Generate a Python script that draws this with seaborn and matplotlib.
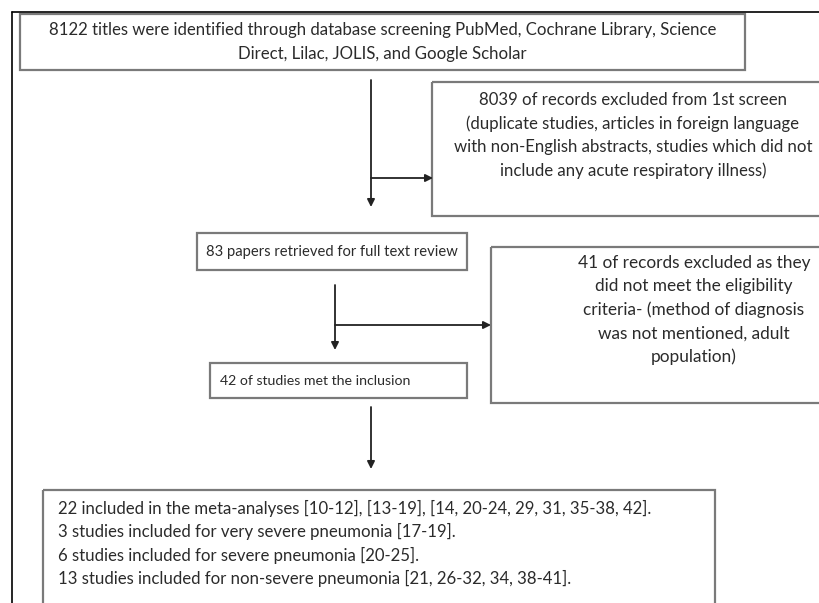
import matplotlib
matplotlib.use("Agg")
import matplotlib.pyplot as plt
from matplotlib.patches import Rectangle
import seaborn as sns

# ---------- flow diagram content ----------
n_identified = 8122
n_excluded_1 = 8039
n_retrieved = 83
n_excluded_2 = 41
n_included = 42

identified_lines = [
    f"{n_identified} titles were identified through database screening PubMed, Cochrane Library, Science",
    "Direct, Lilac, JOLIS, and Google Scholar",
]
excluded_1_lines = [
    f"{n_excluded_1} of records excluded from 1st screen",
    "(duplicate studies, articles in foreign language",
    "with non-English abstracts, studies which did not",
    "include any acute respiratory illness)",
]
retrieved_lines = [f"{n_retrieved} papers retrieved for full text review"]
excluded_2_lines = [
    f"{n_excluded_2} of records excluded as they",
    "did not meet the eligibility",
    "criteria- (method of diagnosis",
    "was not mentioned, adult",
    "population)",
]
included_lines = [f"{n_included} of studies met the inclusion"]
final_lines = [
    "22 included in the meta-analyses [10-12], [13-19], [14, 20-24, 29, 31, 35-38, 42].",
    "3 studies included for very severe pneumonia [17-19].",
    "6 studies included for severe pneumonia [20-25].",
    "13 studies included for non-severe pneumonia [21, 26-32, 34, 38-41].",
]

# ---------- layout (pixel space of the 820x603 canvas) ----------
W, H = 820, 603
EDGE = "#7a7a7a"
TXT = "#2b2b2b"
FS = 12.1
LINE = 23.5

sns.set_theme(style="white")
plt.rcParams["font.family"] = ["Lato", "DejaVu Sans"]

fig = plt.figure(figsize=(W / 100, H / 100), dpi=100)
ax = fig.add_axes([0, 0, 1, 1])
ax.set_xlim(0, W)
ax.set_ylim(H, 0)
ax.axis("off")


def box(x0, y0, x1, y1, lines, y_first, align="center", x_text=None, fs=FS):
    ax.add_patch(Rectangle((x0, y0), x1 - x0, y1 - y0, fill=False,
                           edgecolor=EDGE, linewidth=1.6))
    if x_text is None:
        x_text = (x0 + x1) / 2
    for i, t in enumerate(lines):
        ax.text(x_text, y_first + i * LINE, t, ha=align, va="center",
                fontsize=fs, color=TXT)


def arrow(x0, y0, x1, y1):
    ax.annotate("", xy=(x1, y1), xytext=(x0, y0),
                arrowprops=dict(arrowstyle="-|>", color="#222222", lw=1.3,
                                mutation_scale=11, shrinkA=0, shrinkB=0))


# outer frame (top and left edges only visible)
ax.plot([12, W], [12, 12], color="black", lw=1.2)
ax.plot([12, 12], [12, H], color="black", lw=1.2)

box(20, 14, 745, 70, identified_lines, 30)
box(432, 82, 830, 216, excluded_1_lines, 100, x_text=633)
box(197, 233, 467, 270, retrieved_lines, 252, fs=10.6)
box(491, 247, 830, 403, excluded_2_lines, 263, x_text=694, fs=12.4)
box(210, 363, 467, 398, included_lines, 381, align="left", x_text=220, fs=10.2)
box(43, 490, 715, 640, final_lines, 508, align="left", x_text=58)

# arrows
arrow(371, 80, 371, 207)
arrow(371, 178, 433, 178)
arrow(335, 285, 335, 350)
arrow(335, 325, 491, 325)
arrow(371, 407, 371, 469)

fig.savefig("out.png", dpi=100, facecolor="white")
